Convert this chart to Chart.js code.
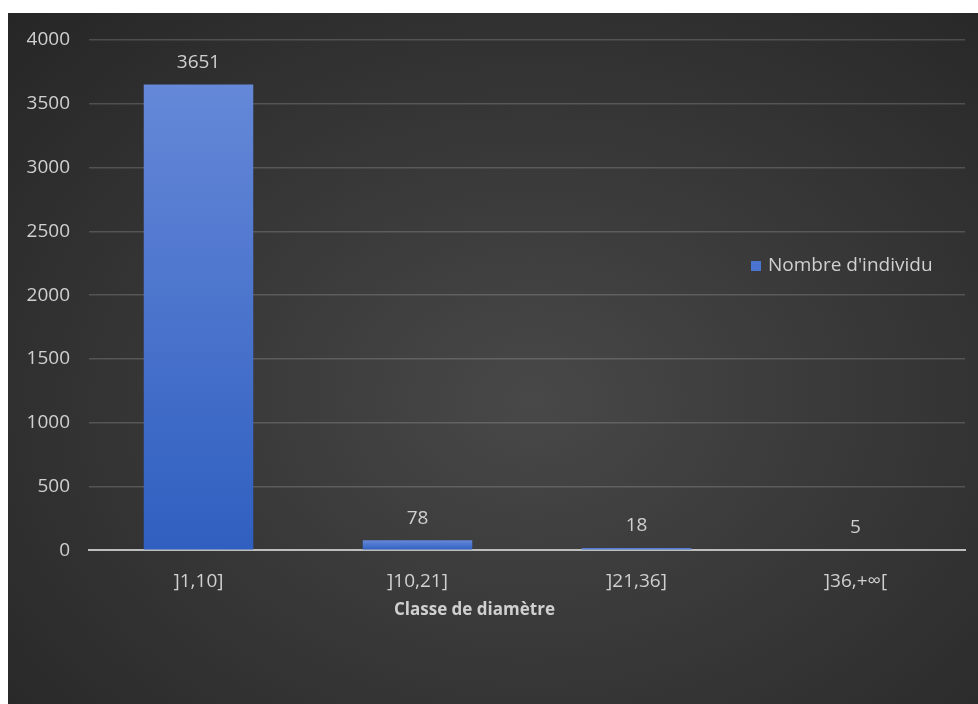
<!DOCTYPE html>
<html>
<head>
<meta charset="utf-8">
<script src="https://cdn.jsdelivr.net/npm/chart.js@4.4.0/dist/chart.umd.min.js"></script>
<style>
    html, body { margin: 0; padding: 0; background: #ffffff; }
    #wrap {
        position: absolute; left: 8px; top: 13px; width: 970px; height: 691px;
        background: radial-gradient(ellipse 75% 80% at 54% 56%, #484848 0%, #3a3a3a 40%, #262626 100%);
    }
    canvas { display: block; }
</style>
</head>
<body>
<div id="wrap"><canvas id="myChart" width="970" height="691"></canvas></div>
<script>
const CATEGORIES = ["]1,10]", "]10,21]", "]21,36]", "]36,+∞["];
const COUNTS = [3651, 78, 18, 5];
const SERIES_LABEL = "Nombre d'individu";
const AXIS_TITLE = "Classe de diamètre";
const Y_MIN = 0, Y_MAX = 4000, Y_STEP = 500;

const FONT = "'Open Sans', 'Noto Sans', sans-serif";
const TEXT_COLOR = "#d0d0d0";

function barGradient(context) {
    const chart = context.chart;
    if (!chart.chartArea || context.dataIndex === undefined) {
        return "#4a74cc";
    }
    const yScale = chart.scales.y;
    const top = yScale.getPixelForValue(COUNTS[context.dataIndex]);
    const bottom = yScale.getPixelForValue(0);
    const g = chart.ctx.createLinearGradient(0, top, 0, Math.max(bottom, top + 1));
    g.addColorStop(0, "#6588d8");
    g.addColorStop(1, "#2f5fc0");
    return g;
}

// value labels above the bars
const dataLabels = {
    id: "dataLabels",
    afterDatasetsDraw(chart) {
        const ctx = chart.ctx;
        const meta = chart.getDatasetMeta(0);
        ctx.save();
        ctx.font = "19px " + FONT;
        ctx.fillStyle = TEXT_COLOR;
        ctx.textAlign = "center";
        ctx.textBaseline = "middle";
        meta.data.forEach(function (bar, i) {
            ctx.fillText(String(COUNTS[i]), bar.x, bar.y - 22);
        });
        ctx.restore();
    }
};

// legend inside the plot on the right, plus axis title
const extras = {
    id: "extras",
    afterDraw(chart) {
        const ctx = chart.ctx;
        const area = chart.chartArea;
        ctx.save();
        const lx = area.right - 214, ly = 253;
        ctx.fillStyle = "#4a74cf";
        ctx.fillRect(lx, ly - 5, 10, 10);
        ctx.font = "19px " + FONT;
        ctx.fillStyle = TEXT_COLOR;
        ctx.textAlign = "left";
        ctx.textBaseline = "middle";
        ctx.fillText(chart.data.datasets[0].label, lx + 17, ly);
        ctx.font = "bold 17px " + FONT;
        ctx.textAlign = "center";
        ctx.fillText(AXIS_TITLE, area.left + (area.right - area.left) * 0.44, 597);
        ctx.restore();
    }
};

const ctx1 = document.getElementById("myChart");
const myChart = new Chart(ctx1, {
    type: "bar",
    data: {
        labels: CATEGORIES,
        datasets: [{
            label: SERIES_LABEL,
            data: COUNTS,
            backgroundColor: barGradient,
            borderWidth: 0,
            categoryPercentage: 1.0,
            barPercentage: 0.5
        }]
    },
    options: {
        responsive: false,
        animation: false,
        layout: { padding: { left: 0, right: 13, top: 27, bottom: 99 } },
        plugins: {
            legend: { display: false },
            tooltip: { enabled: false }
        },
        scales: {
            x: {
                grid: { display: false },
                border: { color: "#bdbdbd", width: 2 },
                ticks: {
                    color: TEXT_COLOR,
                    font: { family: FONT, size: 19 },
                    padding: 12
                }
            },
            y: {
                min: Y_MIN,
                max: Y_MAX,
                afterFit(scale) {
                    scale.width = 81;
                    scale.paddingTop = 0;
                },
                grid: { color: "rgba(255,255,255,0.17)", lineWidth: 1.5, drawTicks: false },
                border: { display: false },
                ticks: {
                    stepSize: Y_STEP,
                    color: TEXT_COLOR,
                    font: { family: FONT, size: 19 },
                    padding: 19,
                    callback: function (value) { return String(value); }
                }
            }
        }
    },
    plugins: [dataLabels, extras]
});
</script>
</body>
</html>
